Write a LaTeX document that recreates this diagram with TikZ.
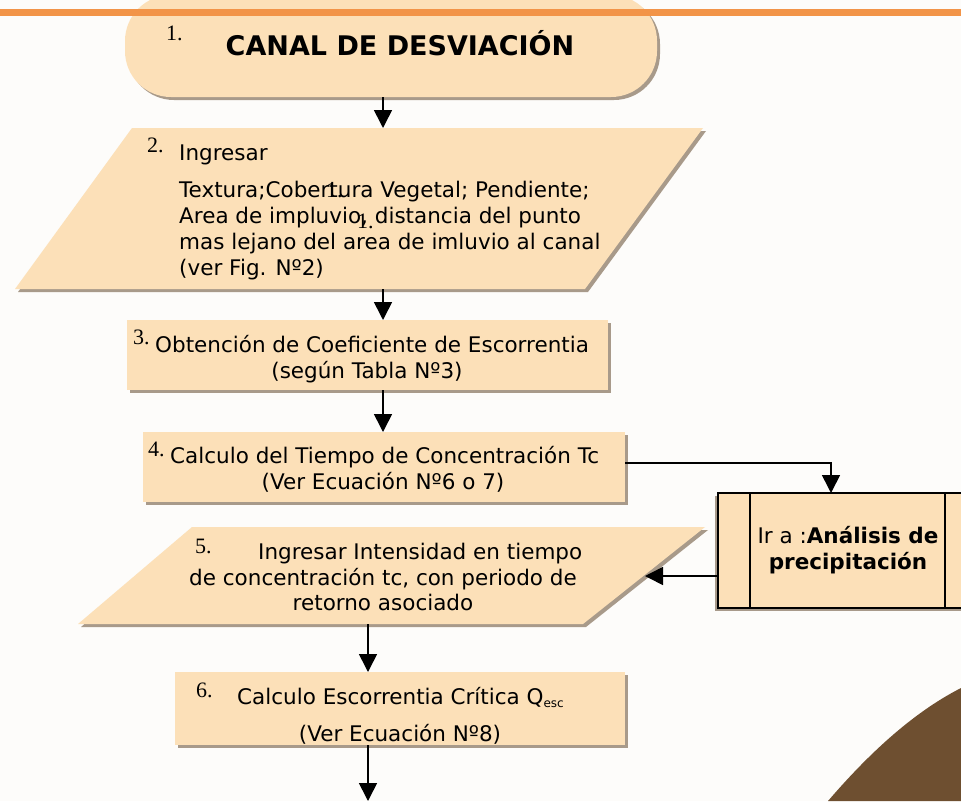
\documentclass[tikz,border=0pt]{standalone}
\usepackage{fontspec}
\setmainfont{DejaVu Sans}
\newfontfamily\numfont{Liberation Serif}
\usetikzlibrary{arrows.meta,calc}
\definecolor{peach}{HTML}{FCE0B8}
\definecolor{shade}{HTML}{A89A8A}
\definecolor{bgc}{HTML}{FDFCFA}
\definecolor{orangeline}{HTML}{F29448}
\definecolor{brownc}{HTML}{6E4F30}
\begin{document}
\begin{tikzpicture}[x=1pt,y=-1pt,
  conn/.style={line width=1.6pt,-{Triangle[length=18pt,width=18pt]}},
  txt/.style={font=\fontsize{21.5}{26}\selectfont,inner sep=0pt},
  boldtxt/.style={font=\bfseries\fontsize{21.5}{26}\selectfont,inner sep=0pt},
  title/.style={font=\bfseries\fontsize{27}{30}\selectfont,inner sep=0pt},
  num/.style={font=\numfont\fontsize{22}{24}\selectfont,inner sep=0pt,anchor=base west},
  shapefill/.style={fill=peach},
  shadowfill/.style={fill=shade}]
\fill[bgc] (0,0) rectangle (961,801);
\useasboundingbox (0,0) rectangle (961,801);
% decoration
\fill[brownc] (828,801) .. controls (865,758) and (910,714) .. (961,688) -- (961,801) -- cycle;
% shape 1 terminal
\fill[shadowfill,rounded corners=46pt] (128,-2) rectangle (660,100);
\fill[shapefill,rounded corners=46pt] (125,-5) rectangle (657,97);
\fill[orangeline] (0,9) rectangle (961,16);
\node[num] (n1) at (166,40) {1.};
\node[title] (t1) at (400,43) {CANAL DE DESVIACIÓN};
\coordinate (s1b) at (383,97);
% shape 2 input
\fill[shadowfill] (135,131) -- (706,131) -- (588,292) -- (18,292) -- cycle;
\fill[shapefill] (132,128) -- (703,128) -- (585,289) -- (15,289) -- cycle;
\coordinate (s2t) at (383,128);
\coordinate (s2b) at (383,289);
\node[num] (n2) at (147,152) {2.};
\node[txt,anchor=base west] (t2a) at (179,160) {Ingresar};
\node[txt,anchor=base west] (t2b) at (179,197) {Textura;Cobertura Vegetal; Pendiente;};
\node[txt,anchor=base west] (t2c) at (179,223) {Area de impluvio, distancia del punto};
\node[txt,anchor=base west] (t2d) at (179,249) {mas lejano del area de imluvio al canal};
\node[txt,anchor=base west] (t2e) at (179,275) {(ver Fig. Nº2)};
\node[num] (x1) at (326,197) {1.};
\node[num] (x2) at (357,228) {1.};
% shape 3
\fill[shadowfill] (130,323) rectangle (611,393);
\fill[shapefill] (127,320) rectangle (608,390);
\coordinate (s3t) at (383,320);
\coordinate (s3b) at (383,390);
\node[num] (n3) at (133,344) {3.};
\node[txt,anchor=base west] (t3a) at (155,352) {Obtención de Coeficiente de Escorrentia};
\node[txt,anchor=base] (t3b) at (367,378) {(según Tabla Nº3)};
% shape 4
\fill[shadowfill] (146,435) rectangle (628,505);
\fill[shapefill] (143,432) rectangle (625,502);
\coordinate (s4t) at (383,432);
\coordinate (s4r) at (625,463);
\node[num] (n4) at (148,456) {4.};
\node[txt,anchor=base west] (t4a) at (170,463) {Calculo del Tiempo de Concentración Tc};
\node[txt,anchor=base] (t4b) at (383,489) {(Ver Ecuación Nº6 o 7)};
% predefined process box
\fill[shadowfill] (715,496) rectangle (975,611);
\filldraw[fill=peach,draw=black,line width=2pt] (718,493) rectangle (975,608);
\draw[line width=1.5pt] (750,493) -- (750,608);
\draw[line width=1.5pt] (945,493) -- (945,608);
\coordinate (pt) at (831,493);
\coordinate (pl) at (718,576);
\node[txt,anchor=base] (pa) at (848,543) {Ir a :\textbf{Análisis de}};
\node[boldtxt,anchor=base] (pb) at (848,569) {precipitación};
% shape 5 input
\fill[shadowfill] (195,530) -- (708,530) -- (586,627) -- (81,627) -- cycle;
\fill[shapefill] (192,527) -- (705,527) -- (583,624) -- (78,624) -- cycle;
\coordinate (s5r) at (645,576);
\coordinate (s5b) at (368,624);
\node[num] (n5) at (195,553) {5.};
\node[txt,anchor=base west] (t5a) at (258,559) {Ingresar Intensidad en tiempo};
\node[txt,anchor=base] (t5b) at (383,585) {de concentración tc, con periodo de};
\node[txt,anchor=base] (t5c) at (383,610) {retorno asociado};
% shape 6
\fill[shadowfill] (178,675) rectangle (628,748);
\fill[shapefill] (175,672) rectangle (625,745);
\coordinate (s6t) at (368,672);
\coordinate (s6b) at (368,745);
\coordinate (s7t) at (368,801);
\node[num] (n6) at (196,697) {6.};
\node[txt,anchor=base west] (t6a) at (237,704) {Calculo Escorrentia Crítica Q\raisebox{-3pt}{\fontsize{12}{13}\selectfont esc}};
\node[txt,anchor=base] (t6b) at (400,741) {(Ver Ecuación Nº8)};
% connectors
\draw[conn] (s1b) -- (s2t);
\draw[conn] (s2b) -- (s3t);
\draw[conn] (s3b) -- (s4t);
\draw[conn] (s4r) -| (pt);
\draw[conn] (pl) -- (s5r);
\draw[conn] (s5b) -- (s6t);
\draw[conn] (s6b) -- (s7t);
\end{tikzpicture}
\end{document}
